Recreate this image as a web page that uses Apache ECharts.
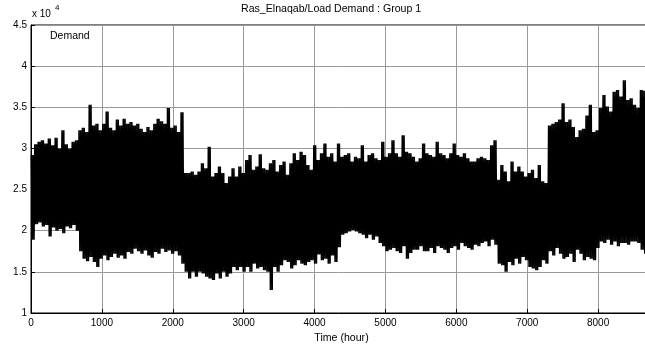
<!DOCTYPE html>
<html><head><meta charset="utf-8">
<script src="https://cdn.jsdelivr.net/npm/echarts@6/dist/echarts.min.js"></script>
<style>html,body{margin:0;padding:0;background:#fff}#c{width:645px;height:349px}</style>
</head><body><div id="c"></div>
<script>
// ---- chart text ----
const TITLE = 'Ras_Elnaqab/Load Demand : Group 1';
const X_NAME = 'Time (hour)';
const SERIES_NAME = 'Demand';
const Y_SCALE_BASE = 'x 10';
const Y_SCALE_EXP = '4';

// ---- axes ----
const X_MIN = 0, X_MAX = 8760, X_STEP = 1000;
const Y_MIN = 1, Y_MAX = 4.5, Y_STEP = 0.5;

// ---- data (units of 10^4), read per 48-hour block: daily peak envelope / trough envelope ----
const BLOCK_HOURS = 48;
const DAY_HOURS = 24;
const blockHigh = [
  2.92,3.05,3.08,3.10,3.06,3.12,3.04,3.13,3.00,3.22,
  3.05,3.00,3.08,3.10,3.22,3.25,3.20,3.53,3.28,3.30,
  3.22,3.30,3.45,3.25,3.22,3.35,3.28,3.36,3.30,3.32,
  3.28,3.30,3.24,3.20,3.26,3.22,3.30,3.36,3.33,3.30,
  3.49,3.25,3.28,3.20,3.44,2.70,2.70,2.72,2.68,2.72,
  2.82,2.76,3.02,2.66,2.70,2.78,2.70,2.58,2.66,2.76,
  2.66,2.78,2.70,2.86,2.92,2.74,2.78,2.93,2.76,2.74,
  2.82,2.86,2.72,2.80,2.84,2.68,2.82,2.94,2.86,2.96,
  2.92,2.80,2.74,3.04,2.86,2.94,3.06,2.90,2.94,2.84,
  3.06,2.90,2.92,2.94,2.84,2.90,2.88,3.04,2.84,2.92,
  2.94,2.88,2.86,3.08,2.90,2.94,3.10,2.94,2.90,3.16,
  2.96,2.94,2.90,2.84,2.88,3.06,2.94,2.92,2.90,3.08,
  2.94,2.92,2.88,2.94,3.06,2.92,2.90,2.94,2.88,2.84,
  2.84,2.88,2.90,2.88,2.86,3.04,3.10,2.62,2.80,2.72,
  2.60,2.84,2.72,2.78,2.72,2.66,2.70,2.74,2.64,2.80,
  2.60,2.58,3.28,3.30,3.32,3.35,3.55,3.32,3.35,3.26,
  3.14,3.22,3.24,3.40,3.53,3.20,3.22,3.49,3.65,3.51,
  3.45,3.69,3.71,3.63,3.83,3.59,3.61,3.53,3.49,3.71,
  3.70,3.65,3.60
];
const blockLow = [
  1.89,2.08,2.10,2.05,2.07,1.93,2.04,2.00,2.02,1.97,
  2.05,2.03,2.07,2.00,1.75,1.66,1.63,1.68,1.62,1.56,
  1.66,1.70,1.64,1.68,1.72,1.67,1.70,1.66,1.74,1.72,
  1.78,1.75,1.72,1.76,1.70,1.67,1.74,1.72,1.78,1.74,
  1.76,1.72,1.75,1.70,1.60,1.50,1.42,1.50,1.44,1.50,
  1.48,1.44,1.42,1.40,1.48,1.42,1.50,1.44,1.48,1.56,
  1.52,1.56,1.50,1.56,1.50,1.60,1.54,1.56,1.52,1.50,
  1.28,1.56,1.50,1.58,1.64,1.62,1.54,1.58,1.64,1.60,
  1.58,1.62,1.64,1.60,1.71,1.64,1.66,1.60,1.70,1.62,
  1.80,1.95,1.97,1.99,2.01,1.99,1.97,1.95,1.91,1.95,
  1.89,1.93,1.85,1.81,1.75,1.77,1.79,1.75,1.73,1.81,
  1.66,1.73,1.77,1.77,1.81,1.75,1.75,1.79,1.73,1.81,
  1.79,1.77,1.73,1.79,1.81,1.77,1.85,1.81,1.79,1.77,
  1.83,1.81,1.85,1.87,1.81,1.89,1.83,1.60,1.58,1.50,
  1.62,1.58,1.66,1.60,1.68,1.64,1.56,1.54,1.52,1.56,
  1.64,1.60,1.75,1.70,1.79,1.72,1.66,1.68,1.72,1.62,
  1.77,1.72,1.64,1.68,1.66,1.64,1.79,1.87,1.85,1.89,
  1.83,1.87,1.81,1.85,1.85,1.83,1.87,1.87,1.85,1.77,
  1.72,1.75,1.78
];

// one daily cycle (peak then trough) per day, each block's read envelope held for its days
const points = [];
for (let k = 0; k < blockHigh.length; k++) {
  for (let d = 0; d < BLOCK_HOURS / DAY_HOURS; d++) {
    const h0 = k * BLOCK_HOURS + d * DAY_HOURS;
    points.push([h0 + DAY_HOURS / 4, blockHigh[k]]);
    points.push([h0 + 3 * DAY_HOURS / 4, blockLow[k]]);
  }
}

const FONT = "'Liberation Sans', Arial, Helvetica, sans-serif";
const chart = echarts.init(document.getElementById('c'), null, {renderer: 'canvas'});
chart.setOption({
  animation: false,
  backgroundColor: '#fff',
  textStyle: {fontFamily: FONT, color: '#000'},
  title: {
    text: TITLE, left: 241, top: 4, padding: 0,
    textStyle: {fontFamily: FONT, fontSize: 10.6, fontWeight: 'normal', color: '#000'}
  },
  legend: {
    data: [SERIES_NAME], left: 45, top: 31, padding: 0,
    itemWidth: 0, itemHeight: 0, icon: 'rect',
    textStyle: {fontFamily: FONT, fontSize: 10.5, color: '#000'},
    selectedMode: false
  },
  grid: {left: 31, top: 25, right: -7, bottom: 36, outerBoundsMode: 'none', containLabel: false,
    show: true, borderColor: '#000', borderWidth: 1, backgroundColor: 'transparent'},
  graphic: [
    {type: 'text', left: 32, top: 9, style: {text: Y_SCALE_BASE, font: '10px ' + FONT, fill: '#000'}},
    {type: 'text', left: 55, top: 4, style: {text: Y_SCALE_EXP, font: '8px ' + FONT, fill: '#000'}}
  ],
  xAxis: {
    type: 'value', min: X_MIN, max: X_MAX, interval: X_STEP,
    name: X_NAME, nameLocation: 'middle', nameGap: 19,
    nameTextStyle: {fontFamily: FONT, fontSize: 10.6, color: '#000'},
    axisLine: {lineStyle: {color: '#000', width: 1}},
    axisTick: {inside: true, length: 4, lineStyle: {color: '#000'}},
    axisLabel: {margin: 5, fontFamily: FONT, fontSize: 10, color: '#000', showMaxLabel: false,
      formatter: v => (v % X_STEP === 0 ? String(v) : '')},
    splitLine: {show: true, lineStyle: {color: '#999', width: 1}}
  },
  yAxis: {
    type: 'value', min: Y_MIN, max: Y_MAX, interval: Y_STEP,
    axisLine: {show: true, lineStyle: {color: '#000', width: 1}},
    axisTick: {show: true, inside: true, length: 4, lineStyle: {color: '#000'}},
    axisLabel: {margin: 4, fontFamily: FONT, fontSize: 10, color: '#000'},
    splitLine: {show: true, lineStyle: {color: '#999', width: 1}}
  },
  series: [{
    name: SERIES_NAME, type: 'line', data: points,
    showSymbol: false, symbol: 'none', sampling: null,
    lineStyle: {color: '#000', width: 1.6},
    itemStyle: {color: '#000'},
    z: 3
  }]
});
</script></body></html>
